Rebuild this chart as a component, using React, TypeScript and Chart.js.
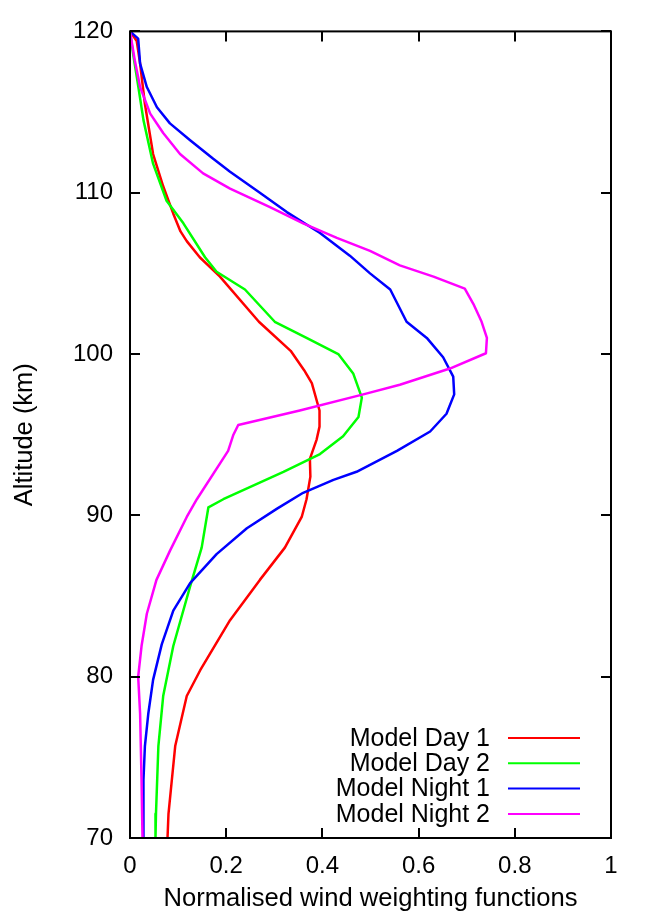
import React, { useEffect, useRef } from "react";
import { Chart, registerables } from "chart.js";

Chart.register(...registerables);

// ---- Data (altitude in km, normalised weighting value) ----
const seriesLabels = ["Model Day 1", "Model Day 2", "Model Night 1", "Model Night 2"];
const seriesColors = ["#ff0000", "#00ff00", "#0000ff", "#ff00ff"];

const altDay1 = [120, 119.4, 118, 115.5, 112.4, 110.4, 108.7, 107.6, 107, 106, 104.8, 102, 100.2, 99, 98.2, 96.5, 95.5, 94.7, 93.5, 92.4, 91, 89.9, 88, 86, 83.5, 80.4, 78.8, 75.7, 73, 71.5, 70];
const valDay1 = [0.0, 0.014, 0.021, 0.031, 0.048, 0.069, 0.09, 0.105, 0.118, 0.145, 0.187, 0.268, 0.334, 0.362, 0.378, 0.394, 0.394, 0.388, 0.374, 0.375, 0.367, 0.357, 0.322, 0.27, 0.208, 0.146, 0.118, 0.094, 0.085, 0.08, 0.078];

const altDay2 = [120, 118.5, 117.2, 114.5, 111.8, 109.5, 108.1, 106, 105.1, 104, 102, 101, 100, 98.8, 97.3, 96.1, 94.9, 93.8, 92.7, 91, 90.5, 88, 85.6, 81.9, 78.8, 75.7, 71.5, 70];
const valDay2 = [0.0, 0.007, 0.014, 0.028, 0.048, 0.076, 0.111, 0.156, 0.18, 0.239, 0.301, 0.367, 0.433, 0.464, 0.482, 0.475, 0.443, 0.395, 0.319, 0.194, 0.163, 0.149, 0.125, 0.09, 0.069, 0.059, 0.054, 0.053];

const altNight1 = [120, 119.55, 118, 116.55, 115.3, 114.3, 113.25, 112.1, 111.3, 110, 108.8, 107.5, 106.1, 105, 104, 102, 101, 99.8, 98.6, 97.5, 96.3, 95.2, 94, 92.7, 92.2, 91.4, 90.4, 89.2, 87.6, 85.8, 84.1, 82, 79.8, 77.7, 75.7, 73.6, 70];
const valNight1 = [0.0, 0.017, 0.021, 0.035, 0.056, 0.083, 0.125, 0.173, 0.208, 0.27, 0.326, 0.395, 0.457, 0.499, 0.541, 0.575, 0.617, 0.651, 0.672, 0.674, 0.658, 0.624, 0.555, 0.471, 0.423, 0.36, 0.305, 0.243, 0.18, 0.125, 0.09, 0.066, 0.048, 0.038, 0.031, 0.028, 0.028];

const altNight2 = [120, 118.2, 116.55, 114.9, 113.7, 112.4, 111.2, 110.25, 109.1, 108.1, 107.2, 106.4, 105.5, 104.8, 104.05, 103.1, 102, 101, 100.05, 99.1, 98.1, 97.5, 96.5, 95.6, 95, 94, 91, 89.9, 87.8, 86, 83.9, 81.9, 80, 77.7, 73.6, 70];
const valNight2 = [0.0, 0.01, 0.021, 0.042, 0.069, 0.104, 0.152, 0.208, 0.291, 0.36, 0.43, 0.499, 0.561, 0.631, 0.696, 0.714, 0.731, 0.742, 0.74, 0.665, 0.561, 0.485, 0.353, 0.225, 0.215, 0.204, 0.139, 0.118, 0.083, 0.055, 0.035, 0.024, 0.017, 0.021, 0.024, 0.026];

const xTickValues = [0, 0.2, 0.4, 0.6, 0.8, 1];
const yTickValues = [70, 80, 90, 100, 110, 120];

const xTitle = "Normalised wind weighting functions";
const yTitle = "Altitude (km)";

const FONT = "'Liberation Sans', Arial, Helvetica, sans-serif";

const framePlugin = {
  id: "frameAndTicks",
  afterDatasetsDraw(chart: any) {
    const { ctx, chartArea, scales } = chart;
    const { left, right, top, bottom } = chartArea;
    const tl = 10;
    ctx.save();
    ctx.strokeStyle = "#000";
    ctx.lineWidth = 2;
    ctx.beginPath();
    for (const v of xTickValues) {
      const px = Math.round(scales.x.getPixelForValue(v));
      ctx.moveTo(px, bottom);
      ctx.lineTo(px, bottom - tl);
      ctx.moveTo(px, top);
      ctx.lineTo(px, top + tl);
    }
    for (const v of yTickValues) {
      const py = Math.round(scales.y.getPixelForValue(v));
      ctx.moveTo(left, py);
      ctx.lineTo(left + tl, py);
      ctx.moveTo(right, py);
      ctx.lineTo(right - tl, py);
    }
    ctx.stroke();
    ctx.strokeRect(left, top, right - left, bottom - top);

    // legend inside plot area, bottom right
    ctx.font = `25px ${FONT}`;
    ctx.textAlign = "right";
    ctx.textBaseline = "middle";
    chart.data.datasets.forEach((ds: any, i: number) => {
      const y = bottom - 100 + i * 25.3;
      ctx.fillStyle = "#000";
      ctx.fillText(ds.label, right - 121, y + 1);
      ctx.strokeStyle = ds.borderColor;
      ctx.lineWidth = 2;
      ctx.beginPath();
      ctx.moveTo(right - 103, y);
      ctx.lineTo(right - 31, y);
      ctx.stroke();
    });
    ctx.restore();
  },
};

function makePoints(alts: number[], vals: number[]) {
  return alts.map((a, i) => ({ x: vals[i], y: a }));
}

export default function App() {
  const canvasRef = useRef<HTMLCanvasElement | null>(null);

  useEffect(() => {
    document.body.style.margin = "0";
    const canvas = canvasRef.current;
    if (!canvas) return;
    const alts = [altDay1, altDay2, altNight1, altNight2];
    const vals = [valDay1, valDay2, valNight1, valNight2];
    const chart = new Chart(canvas, {
      type: "scatter",
      data: {
        datasets: seriesLabels.map((label, i) => ({
          label,
          data: makePoints(alts[i], vals[i]),
          borderColor: seriesColors[i],
          backgroundColor: seriesColors[i],
          borderWidth: 2.5,
          borderJoinStyle: "round",
          showLine: true,
          pointRadius: 0,
          tension: 0,
          order: 3 - i,
        })),
      },
      options: {
        animation: false,
        responsive: false,
        devicePixelRatio: 1,
        layout: { padding: { top: 31, right: 43, left: 0, bottom: 0 } },
        plugins: {
          legend: { display: false },
          tooltip: { enabled: false },
        },
        scales: {
          x: {
            type: "linear",
            min: 0,
            max: 1,
            grid: { display: false, drawTicks: false },
            border: { display: false },
            ticks: {
              stepSize: 0.2,
              padding: 14,
              color: "#000",
              font: { family: FONT, size: 24 },
              maxRotation: 0,
              callback: (v: any) => String(Math.round(Number(v) * 10) / 10),
            },
            title: {
              display: true,
              text: xTitle,
              color: "#000",
              font: { family: FONT, size: 25.6 },
              padding: { top: 0, bottom: 1 },
            },
            afterFit(scale: any) {
              scale.height = 77;
            },
          },
          y: {
            type: "linear",
            min: 70,
            max: 120,
            grid: { display: false, drawTicks: false },
            border: { display: false },
            ticks: {
              stepSize: 10,
              padding: 17,
              color: "#000",
              font: { family: FONT, size: 24 },
            },
            title: {
              display: true,
              text: yTitle,
              color: "#000",
              font: { family: FONT, size: 25.5 },
              padding: { top: 10, bottom: 0 },
            },
            afterFit(scale: any) {
              scale.width = 130;
            },
          },
        },
      },
      plugins: [framePlugin],
    });
    return () => chart.destroy();
  }, []);

  return (
    <div style={{ width: 654, height: 915, background: "#fff" }}>
      <canvas ref={canvasRef} width={654} height={915} />
    </div>
  );
}
